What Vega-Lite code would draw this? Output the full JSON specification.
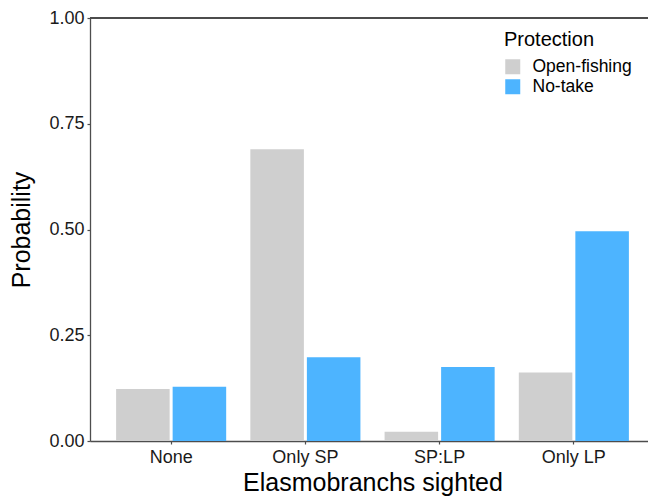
{
  "$schema": "https://vega.github.io/schema/vega-lite/v6.json",
  "width": 558,
  "height": 423,
  "autosize": {"type": "none"},
  "padding": {"left": 90, "top": 18, "right": 0, "bottom": 56},
  "background": "white",
  "config": {
    "view": {"stroke": null},
    "font": "Liberation Sans",
    "axis": {
      "domainColor": "#4d4d4d",
      "domainWidth": 1.3,
      "tickColor": "#4d4d4d",
      "tickWidth": 1.2,
      "tickSize": 3,
      "labelColor": "#1a1a1a",
      "labelFontSize": 18,
      "titleColor": "#000000",
      "titleFontSize": 25,
      "titleFontWeight": "normal",
      "grid": false
    }
  },
  "data": {
    "values": [
      {"sighted": "None", "protection": "Open-fishing", "p": 0.123},
      {"sighted": "None", "protection": "No-take", "p": 0.128},
      {"sighted": "Only SP", "protection": "Open-fishing", "p": 0.690},
      {"sighted": "Only SP", "protection": "No-take", "p": 0.198},
      {"sighted": "SP:LP", "protection": "Open-fishing", "p": 0.022},
      {"sighted": "SP:LP", "protection": "No-take", "p": 0.175},
      {"sighted": "Only LP", "protection": "Open-fishing", "p": 0.162},
      {"sighted": "Only LP", "protection": "No-take", "p": 0.496}
    ]
  },
  "layer": [
    {
      "mark": {"type": "bar"},
      "encoding": {
        "x": {
          "field": "sighted",
          "type": "nominal",
          "sort": ["None", "Only SP", "SP:LP", "Only LP"],
          "scale": {"range": [0, 565], "paddingInner": 0.18, "paddingOuter": 0.1945},
          "axis": {"labelAngle": 0, "labelPadding": 4, "titlePadding": 4},
          "title": "Elasmobranchs sighted"
        },
        "xOffset": {
          "field": "protection",
          "type": "nominal",
          "sort": ["Open-fishing", "No-take"],
          "scale": {"paddingInner": 0.053}
        },
        "y": {
          "field": "p",
          "type": "quantitative",
          "scale": {"domain": [0, 1], "nice": false},
          "axis": {"values": [0, 0.25, 0.5, 0.75, 1], "format": ".2f", "labelPadding": 3, "titlePadding": 14},
          "title": "Probability"
        },
        "color": {
          "field": "protection",
          "type": "nominal",
          "sort": ["Open-fishing", "No-take"],
          "scale": {"range": ["#cfcfcf", "#4db4ff"]},
          "legend": {
            "title": "Protection",
            "orient": "none",
            "legendX": 414,
            "legendY": 12,
            "titleFontSize": 20,
            "titleFontWeight": "normal",
            "titleColor": "#000000",
            "titlePadding": 8,
            "labelFontSize": 17.5,
            "labelColor": "#000000",
            "symbolType": "square",
            "symbolSize": 225,
            "symbolStrokeWidth": 0,
            "rowPadding": 1,
            "labelOffset": 11
          }
        }
      }
    },
    {
      "mark": {"type": "rule", "color": "#4d4d4d", "strokeWidth": 1.3},
      "encoding": {"y": {"datum": 1}}
    }
  ]
}
